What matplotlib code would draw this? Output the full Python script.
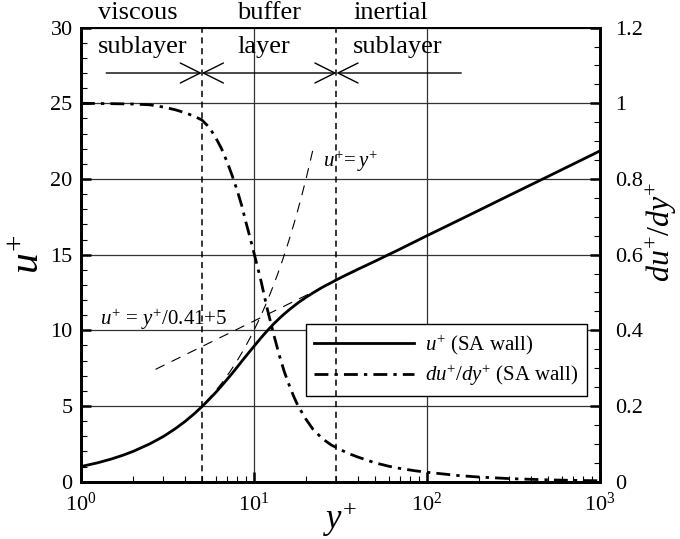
import numpy as np
import matplotlib
matplotlib.use("Agg")
import matplotlib.pyplot as plt
from matplotlib.ticker import MultipleLocator, LogLocator, NullFormatter, FormatStrFormatter

plt.rcParams['font.family'] = ['Liberation Serif', 'DejaVu Serif']
plt.rcParams['mathtext.fontset'] = 'custom'
plt.rcParams['mathtext.rm'] = 'Liberation Serif'
plt.rcParams['mathtext.it'] = 'Liberation Serif:italic'
plt.rcParams['mathtext.bf'] = 'Liberation Serif:bold'

# SA wall-function velocity profile
y_plus = [1, 1.25, 1.5, 1.75, 2, 2.5, 3, 3.5, 4, 4.5, 5, 5.5, 6, 6.5, 7, 7.5,
          8, 8.5, 9, 9.5, 10, 11, 12, 13, 14, 15, 16, 18, 20, 22, 25, 28, 30,
          35, 40, 50, 60, 70, 85, 100, 150, 200, 300, 500, 700, 1000]
u_plus = [1.0, 1.25, 1.5, 1.75, 2.0, 2.5, 2.99, 3.49, 3.98, 4.47, 4.95, 5.43,
          5.88, 6.33, 6.76, 7.17, 7.57, 7.95, 8.3, 8.63, 8.94, 9.51, 10.0,
          10.42, 10.78, 11.09, 11.36, 11.82, 12.18, 12.48, 12.86, 13.15, 13.34,
          13.72, 14.04, 14.56, 15.0, 15.37, 15.85, 16.25, 17.23, 17.93, 18.92,
          20.16, 20.98, 21.85]

# SA wall-function velocity gradient
y_plus_grad = [1, 1.5, 2, 2.5, 3, 3.5, 4, 4.5, 5, 5.5, 6, 6.5, 7, 7.5, 8, 8.5,
               9, 9.5, 10, 10.5, 11, 11.5, 12, 13, 14, 15, 16, 17, 18, 20, 22,
               25, 28, 30, 35, 40, 50, 60, 70, 85, 100, 150, 200, 300, 500, 700,
               1000]
dudy_plus = [1.0, 0.999, 0.998, 0.996, 0.99, 0.983, 0.975, 0.966, 0.956,
             0.937, 0.91, 0.88, 0.845, 0.808, 0.77, 0.73, 0.685, 0.645, 0.605,
             0.567, 0.53, 0.49, 0.453, 0.39, 0.335, 0.29, 0.255, 0.225, 0.2,
             0.165, 0.138, 0.113, 0.097, 0.09, 0.075, 0.065, 0.05, 0.041, 0.035,
             0.029, 0.025, 0.0165, 0.0123, 0.0082, 0.0049, 0.0035, 0.0024]

# reference laws
kappa = 0.41
B_log = 5.0
visc_range = (1.0, 22.0)
log_range = (2.7, 200.0)

# region boundaries and labels
region_bounds = [5, 30]
arrow_level = 27
arrow_ends = [1.4, 158]
region_names = [("viscous", "sublayer"), ("buffer", "layer"), ("inertial", "sublayer")]
region_text_x = [1.25, 8.0, 37.4]

fig = plt.figure(figsize=(6.8, 5.39), dpi=100)
ax = fig.add_axes([0.119, 0.1063, 0.7632, 0.8425])
ax2 = ax.twinx()

ax.set_xscale('log')
ax.set_xlim(1, 1000)
ax.set_ylim(0, 30)
ax2.set_ylim(0, 1.2)

ax.yaxis.set_major_locator(MultipleLocator(5))
ax.yaxis.set_minor_locator(MultipleLocator(1))
ax.xaxis.set_major_locator(LogLocator(base=10))
ax.xaxis.set_minor_locator(LogLocator(base=10, subs=np.arange(2, 10)))
ax.xaxis.set_minor_formatter(NullFormatter())
ax2.yaxis.set_major_locator(MultipleLocator(0.2))
ax2.yaxis.set_minor_locator(MultipleLocator(0.05))
ax2.yaxis.set_major_formatter(FormatStrFormatter('%g'))

ax.tick_params(which='both', direction='in', top=False, right=False)
ax.tick_params(which='major', length=7, width=1.8, labelsize=16, pad=6)
ax.tick_params(axis='x', which='major', pad=8)
ax.tick_params(which='minor', length=4.3, width=0.8)
ax2.tick_params(axis='y', which='both', direction='in')
ax2.tick_params(axis='y', which='major', length=7, width=1.8, labelsize=16, pad=11)
ax2.tick_params(axis='y', which='minor', length=4.3, width=0.8)

ax.grid(True, which='major', color='0.2', lw=0.9)

for a in (ax, ax2):
    a.spines['left'].set_linewidth(2)
    a.spines['bottom'].set_linewidth(2)
    a.spines['right'].set_linewidth(2)
    a.spines['top'].set_linewidth(1.3)

# velocity profile and gradient
line_u, = ax.plot(y_plus, u_plus, color='k', lw=2.0, zorder=4)
line_g, = ax2.plot(y_plus_grad, dudy_plus, color='k', lw=2.0,
                   ls=(0, (5, 2.2, 1.2, 2.2)))

# viscous and log laws
yv = np.geomspace(*visc_range, 60)
ax.plot(yv, yv, color='k', lw=0.8, ls=(0, (9, 7)), zorder=3)
yl = np.geomspace(*log_range, 60)
ax.plot(yl, np.log(yl) / kappa + B_log, color='k', lw=0.8, ls=(0, (9, 7)), zorder=3)

ax.text(25.0, 20.8, r'$u^{+}\!{=}y^{+}$', fontsize=15, va='baseline', ha='left')
ax.text(1.29, 10.36, r'$u^{+}\,{=}\,y^{+}/0.41{+}5$', fontsize=15, va='baseline', ha='left')

# region boundaries
for xb in region_bounds:
    ax2.axvline(xb, color='k', lw=1.1, ls=(0, (4, 3)))

# region arrows
arrow_kw = dict(arrowstyle='->,head_length=0.9,head_width=0.45',
                mutation_scale=16, lw=1.0, color='k', shrinkA=0, shrinkB=0)
ax.annotate('', xy=(region_bounds[0], arrow_level), xytext=(arrow_ends[0], arrow_level),
            arrowprops=arrow_kw)
ax.annotate('', xy=(region_bounds[1], arrow_level), xytext=(region_bounds[0], arrow_level),
            arrowprops=dict(arrow_kw, arrowstyle='<->,head_length=0.9,head_width=0.45'))
ax.annotate('', xy=(region_bounds[1], arrow_level), xytext=(arrow_ends[1], arrow_level),
            arrowprops=arrow_kw)

for (top, bottom), xt in zip(region_names, region_text_x):
    ax.text(xt, 30.58, top, fontsize=19, ha='left', va='baseline', clip_on=False)
    ax.text(xt, 28.3, bottom, fontsize=19, ha='left', va='baseline')

ax.set_xlabel(r'$y^{+}$', fontsize=25, labelpad=-12)
ax.set_ylabel(r'$u^{+}$', fontsize=30, labelpad=2)
ax2.set_ylabel(r'$du^{+}/dy^{+}$', fontsize=23, labelpad=1)
ax2.yaxis.label.set_y(0.55)

leg = ax.legend([line_u, line_g],
                [r'$u^{+}$ (SA wall)', r'$du^{+}/dy^{+}$ (SA wall)'],
                loc='upper left', bbox_to_anchor=(0.434, 0.347), borderaxespad=0,
                fontsize=15, handlelength=4.8, handletextpad=0.5,
                borderpad=0.4, labelspacing=0.3, fancybox=False,
                edgecolor='k', framealpha=1)
leg.get_frame().set_linewidth(1.0)

fig.savefig('out.png', dpi=100)
